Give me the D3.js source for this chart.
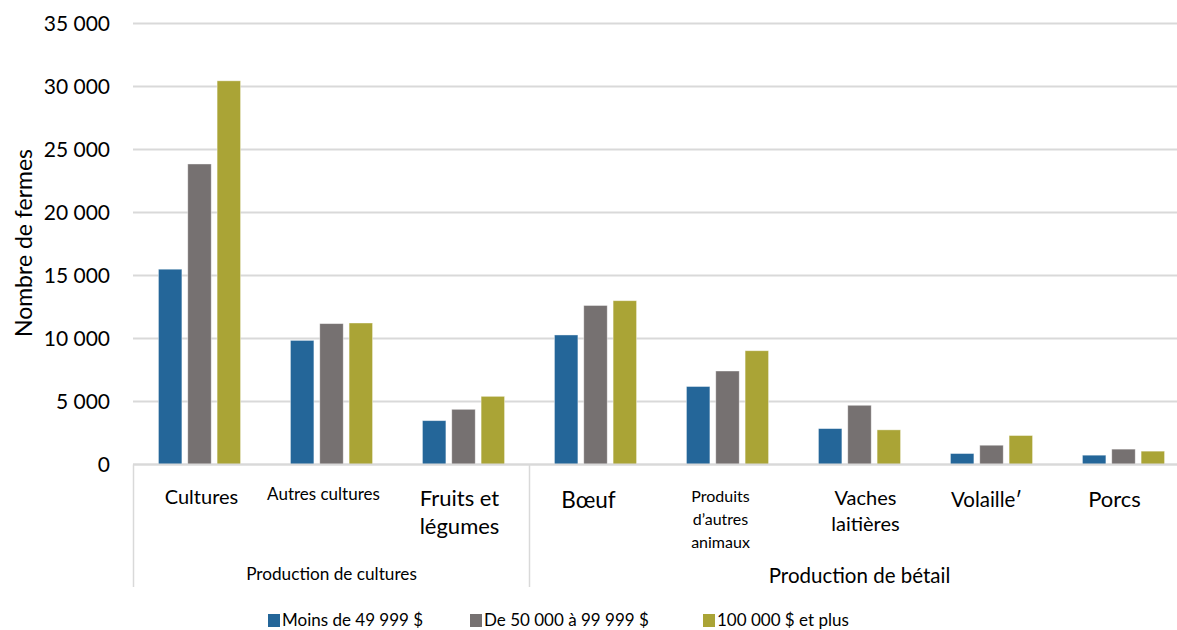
<!DOCTYPE html>
<html>
<head>
<meta charset="utf-8">
<script src="https://cdn.jsdelivr.net/npm/d3@7"></script>
<style>
  body { margin: 0; background: #fff; }
  text { font-family: Lato, "Open Sans", sans-serif; fill: #000; }
</style>
</head>
<body>
<div id="chart"></div>
<script>
// categories, with the lines each label is wrapped into
const categories = ["Cultures", "Autres cultures", "Fruits et légumes", "Bœuf",
    "Produits d'autres animaux", "Vaches laitières", "Volaille'", "Porcs"];
const categoryLines = [["Cultures"], ["Autres cultures"], ["Fruits et", "légumes"], ["Bœuf"],
    ["Produits", "d\u2019autres", "animaux"], ["Vaches", "laitières"], ["Volaille\u02b9"], ["Porcs"]];
const groups = ["Production de cultures", "Production de bétail"];
const groupSpan = [3, 5];

const seriesNames = ["Moins de 49 999 $", "De 50 000 à 99 999 $", "100 000 $ et plus"];
const under50k = [15500, 9850, 3480, 10280, 6190, 2850, 870, 740];
const from50to100k = [23850, 11180, 4380, 12620, 7420, 4700, 1530, 1220];
const over100k = [30450, 11230, 5410, 13000, 9030, 2750, 2300, 1060];

const yTicks = [0, 5000, 10000, 15000, 20000, 25000, 30000, 35000];

// label look (Excel kept different font sizes per label)
const labelSize = [20, 17, 22, 22.5, 16, 20, 20.5, 22];
const labelDx = [2, -8, -4, -7, -7, 6, -5, -9];
const labelFirstBaseline = [504, 500, 506, 508, 502, 505, 507, 507];
const labelLineHeight = [0, 0, 28, 0, 23, 25.5, 0, 0];

const colors = ["#246699", "#767171", "#aaa436"];

const W = 1177, H = 630;
const svg = d3.select("#chart").append("svg")
    .attr("width", W)
    .attr("height", H);

const xScale = d3.scaleBand().domain(categories).range([133.5, 1189.5]).padding(0);
const xSub = d3.scaleBand().domain(seriesNames).range([-44, 44]).paddingInner(0.2).paddingOuter(0.1);
const yScale = d3.scaleLinear().domain([0, 35000]).range([464.5, 23.5]);

// gridlines
svg.append("g")
    .selectAll("line")
    .data(yTicks)
    .join("line")
    .attr("x1", 133)
    .attr("x2", W)
    .attr("y1", d => yScale(d))
    .attr("y2", d => yScale(d))
    .attr("stroke", "#d9d9d9")
    .attr("stroke-width", 2);

// y axis labels
const fmt = d => d3.format(",")(d).replace(/,/g, "\u00a0");
svg.append("g")
    .selectAll("text")
    .data(yTicks)
    .join("text")
    .attr("x", 110)
    .attr("y", d => yScale(d))
    .attr("dy", "0.35em")
    .attr("text-anchor", "end")
    .style("font-size", "21px")
    .text(fmt);

svg.append("text")
    .attr("transform", "translate(32,243) rotate(-90)")
    .attr("text-anchor", "middle")
    .style("font-size", "23px")
    .text("Nombre de fermes");

// bars
const series = [under50k, from50to100k, over100k];
const barData = [];
series.forEach((vals, s) => vals.forEach((v, i) => barData.push({cat: categories[i], s: s, value: v})));

svg.append("g")
    .selectAll("rect")
    .data(barData)
    .join("rect")
    .attr("x", d => xScale(d.cat) + xScale.bandwidth() / 2 + xSub(seriesNames[d.s]))
    .attr("width", xSub.bandwidth())
    .attr("y", d => yScale(d.value))
    .attr("height", d => yScale(0) - yScale(d.value))
    .attr("fill", d => colors[d.s])
    .attr("stroke", "#ffffff")
    .attr("stroke-opacity", 0.5)
    .attr("stroke-width", 0.8);

// category axis lines
svg.append("line")
    .attr("x1", 133).attr("x2", W)
    .attr("y1", yScale(0)).attr("y2", yScale(0))
    .attr("stroke", "#d9d9d9").attr("stroke-width", 2);

let bounds = [0];
groupSpan.forEach(n => bounds.push(bounds[bounds.length - 1] + n));
svg.append("g")
    .selectAll("line")
    .data(bounds.slice(0, 2))
    .join("line")
    .attr("x1", d => xScale(categories[d]))
    .attr("x2", d => xScale(categories[d]))
    .attr("y1", yScale(0))
    .attr("y2", 587)
    .attr("stroke", "#d9d9d9")
    .attr("stroke-width", 1.5);

// category labels
const catLabels = svg.append("g")
    .selectAll("text")
    .data(categories)
    .join("text")
    .attr("text-anchor", "middle")
    .attr("y", (d, i) => labelFirstBaseline[i])
    .style("font-size", (d, i) => labelSize[i] + "px");

catLabels.each(function (d, i) {
    let cx = xScale(d) + xScale.bandwidth() / 2 + labelDx[i];
    d3.select(this).selectAll("tspan")
        .data(categoryLines[i])
        .join("tspan")
        .attr("x", cx)
        .attr("dy", (t, j) => j === 0 ? 0 : labelLineHeight[i])
        .text(t => t);
});

// group labels
svg.append("g")
    .selectAll("text")
    .data(groups)
    .join("text")
    .attr("text-anchor", "middle")
    .attr("x", (d, i) => {
        let a = xScale(categories[bounds[i]]);
        let b = xScale(categories[bounds[i + 1] - 1]) + xScale.bandwidth();
        return (a + b) / 2;
    })
    .attr("y", (d, i) => i === 0 ? 580 : 583)
    .style("font-size", (d, i) => i === 0 ? "17.2px" : "20.5px")
    .text(d => d);

// legend
const legendX = [268, 470, 703];
const legend = svg.append("g")
    .selectAll("g")
    .data(seriesNames)
    .join("g")
    .attr("transform", (d, i) => `translate(${legendX[i]},614)`);

legend.append("rect")
    .attr("width", 12)
    .attr("height", 13)
    .attr("fill", (d, i) => colors[i]);

legend.append("text")
    .attr("x", 14)
    .attr("y", 11.5)
    .style("font-size", "17px")
    .text(d => d);
</script>
</body>
</html>
